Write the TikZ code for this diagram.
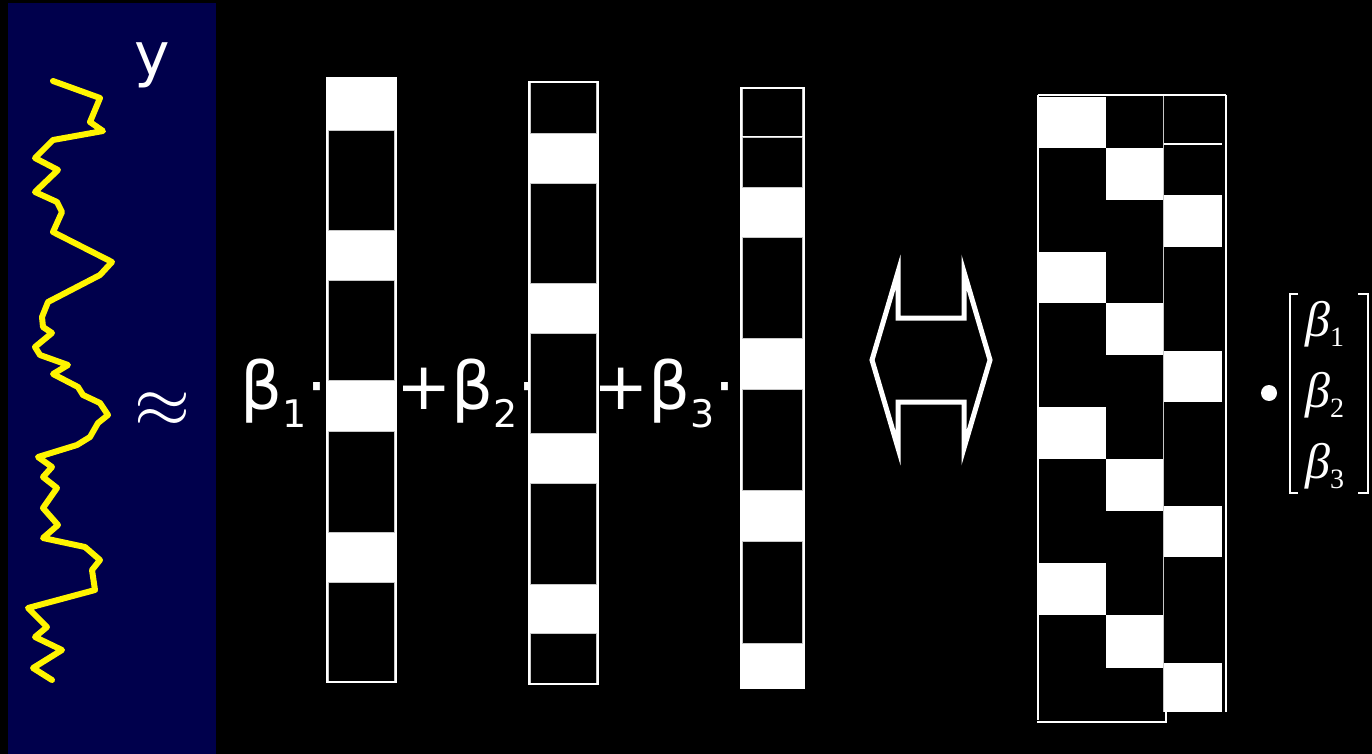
\documentclass[tikz,border=0pt]{standalone}
\usepackage{fontspec}
\newfontfamily\dvs{DejaVu Sans}
\newfontfamily\tnr{Liberation Serif}
\definecolor{panelblue}{RGB}{0,0,76}
\definecolor{curveyellow}{RGB}{255,245,0}
\definecolor{edgegray}{RGB}{200,200,200}
\tikzset{
  blk/.style={fill=black, draw=edgegray, line width=0.8pt},
  colframe/.style={draw=white, line width=1.6pt},
  framel/.style={draw=white, line width=2pt},
  lbl/.style={text=white, inner sep=0pt, anchor=base west},
  curve/.style={draw=curveyellow, line width=6pt, line join=round, line cap=round},
  dblarrow/.style={draw=white, line width=5pt},
  brk/.style={draw=white, line width=1.8pt}
}
\begin{document}
\begin{tikzpicture}[x=1pt,y=-1pt]
\useasboundingbox (0,0) rectangle (1372,754);
\fill[black] (0,0) rectangle (1372,754);
% left panel
\fill[panelblue] (8,3) rectangle (216,754);
\draw[curve] (53,81) -- (100,98) -- (90,122) -- (103,131) -- (53,140) -- (35,158) -- (58,170) -- (35,192) -- (57,202) -- (62,212) -- (53,232) -- (112,262) -- (100,275) -- (48,302) -- (42,317) -- (43,327) -- (52,333) -- (35,347) -- (40,355) -- (68,365) -- (53,374) -- (78,387) -- (83,395) -- (100,403) -- (108,415) -- (98,423) -- (90,437) -- (77,445) -- (38,457) -- (52,467) -- (43,477) -- (57,488) -- (43,508) -- (58,525) -- (43,538) -- (85,547) -- (100,560) -- (92,570) -- (95,590) -- (28,608) -- (47,627) -- (35,637) -- (62,650) -- (33,668) -- (52,680);
\node[lbl] (ylab) at (134,76) {\dvs\fontsize{60}{60}\selectfont y};
\node[text=white, inner sep=0pt] (approx) at (162,410) {\scalebox{7.2}{$\approx$}};
% term labels
\node[lbl] (t1) at (240,409) {\dvs\fontsize{66}{66}\selectfont β\raisebox{-18pt}{\fontsize{38}{38}\selectfont 1}·};
\node[lbl] (t2) at (396,409) {\dvs\fontsize{66}{66}\selectfont +β\raisebox{-18pt}{\fontsize{38}{38}\selectfont 2}·};
\node[lbl] (t3) at (593,409) {\dvs\fontsize{66}{66}\selectfont +β\raisebox{-18pt}{\fontsize{38}{38}\selectfont 3}·};
% column 1
\fill[white] (327,78) rectangle (396,682);
\foreach \a/\b in {130/230,280/380,431/532,582/682}
  \draw[blk] (328.5,\a) rectangle (394.5,\b);
\draw[colframe] (327,78) rectangle (396,682);
% column 2
\fill[white] (529,82) rectangle (598,684);
\foreach \a/\b in {82/133,183/283,333/433,483/584,633/684}
  \draw[blk] (530.5,\a) rectangle (596.5,\b);
\draw[colframe] (529,82) rectangle (598,684);
% column 3
\fill[white] (741,88) rectangle (804,688);
\foreach \a/\b in {88/136,137/187,237/338,389/490,541/643}
  \draw[blk] (742.5,\a) rectangle (802.5,\b);
\draw[colframe] (741,88) rectangle (804,688);
\draw[colframe] (741,136.5) -- (804,136.5);
% double arrow
\draw[dblarrow] (872,360) -- (898,272) -- (898,318) -- (964,318) -- (964,272) -- (990,360) -- (964,448) -- (964,402) -- (898,402) -- (898,448) -- cycle;
% design matrix
\fill[white] (1038,97) rectangle (1163,720);
\foreach \a/\b in {148/252,303/407,459/563,615/720}
  \fill[black] (1038,\a) rectangle (1106,\b);
\foreach \a/\b in {97/148,200/303,355/459,511/615,668/720}
  \fill[black] (1106,\a) rectangle (1163,\b);
\fill[white] (1163,95) rectangle (1222,712);
\foreach \a/\b in {95/144,144/195,247/351,402/506,557/663}
  \fill[black] (1163,\a) rectangle (1222,\b);
\draw[framel] (1163,144) -- (1222,144);
\draw[draw=edgegray, line width=1pt] (1163,95) -- (1163,712);
\draw[framel] (1038,95) -- (1226,95);
\draw[framel] (1226,95) -- (1226,712);
\draw[framel] (1038,95) -- (1038,720);
\draw[framel] (1037,722) -- (1166,722) -- (1166,712);
% bullet and beta vector
\fill[white] (1269,393) circle (8);
\draw[brk] (1298,294) -- (1290,294) -- (1290,493) -- (1298,493);
\draw[brk] (1358,294) -- (1368,294) -- (1368,493) -- (1358,493);
\node[lbl] (v1) at (1305,336) {\tnr\fontsize{50}{50}\selectfont\itshape β\raisebox{-10pt}{\upshape\fontsize{28}{28}\selectfont 1}};
\node[lbl] (v2) at (1305,407) {\tnr\fontsize{50}{50}\selectfont\itshape β\raisebox{-10pt}{\upshape\fontsize{28}{28}\selectfont 2}};
\node[lbl] (v3) at (1305,478) {\tnr\fontsize{50}{50}\selectfont\itshape β\raisebox{-10pt}{\upshape\fontsize{28}{28}\selectfont 3}};
\end{tikzpicture}
\end{document}
